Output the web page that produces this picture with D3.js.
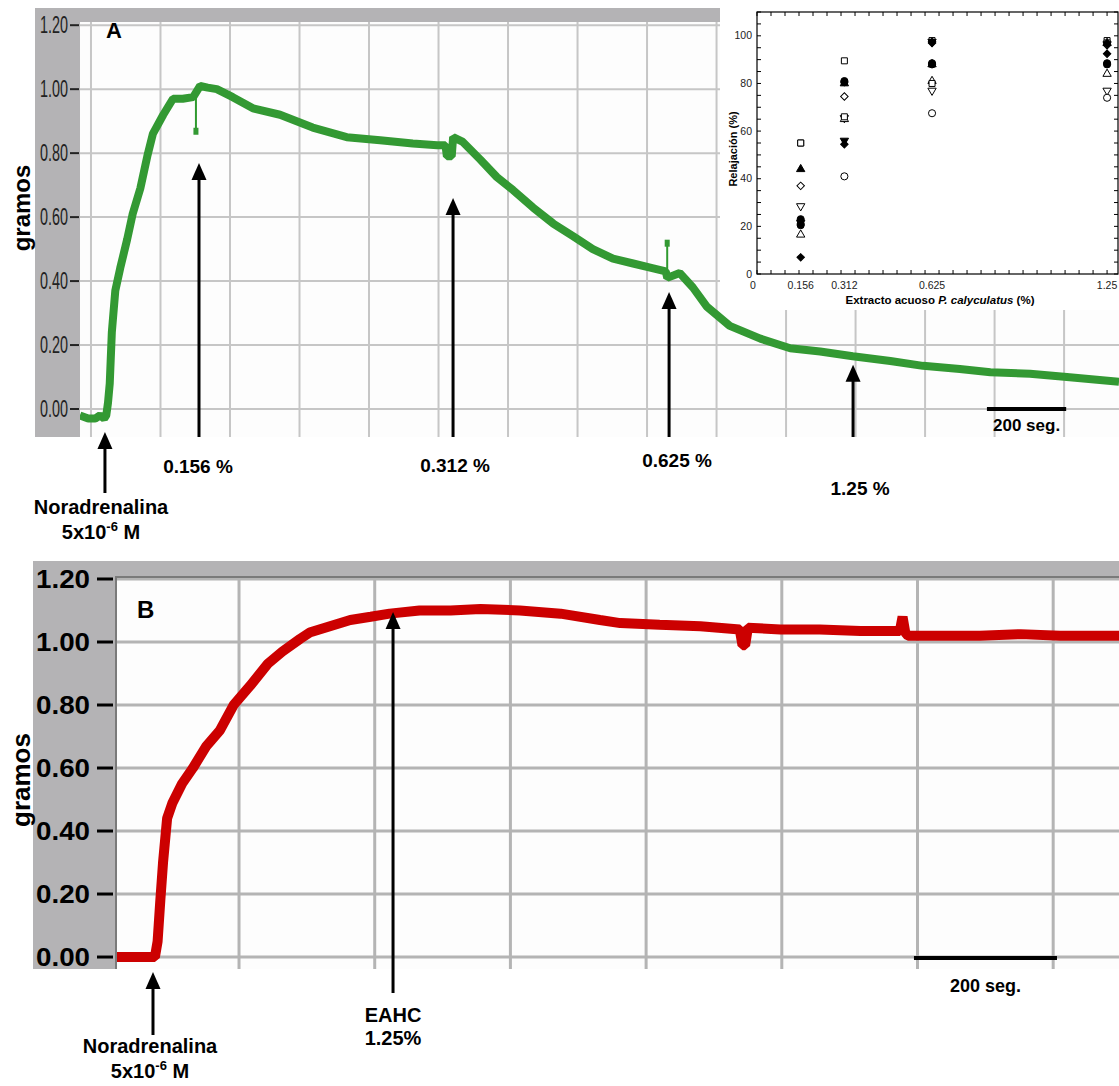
<!DOCTYPE html>
<html><head><meta charset="utf-8">
<script src="https://cdn.jsdelivr.net/npm/d3@7"></script>
<style>
body{margin:0;background:#fff}
svg{display:block}
text{font-family:"Liberation Sans",Arial,Helvetica,sans-serif}
</style>
</head><body>
<svg id="c" width="1119" height="1086"></svg>
<script>
// ---------------- DATA ----------------
// Panel A: recorder trace (x in chart-grid divisions, y in grams)
const traceA_x = [-0.16,-0.04,0.06,0.13,0.19,0.22,0.245,0.27,0.30,0.35,0.42,0.52,0.60,0.71,0.81,0.89,1.04,1.18,1.32,1.47,1.57,1.68,1.81,2.04,2.33,2.72,3.19,3.68,4.16,4.63,4.98,5.10,5.12,5.19,5.21,5.35,5.60,5.84,6.07,6.36,6.65,6.94,7.22,7.51,7.80,8.09,8.27,8.29,8.47,8.66,8.86,9.19,9.63,10.06,10.49,10.96,11.50,11.97,12.50,12.94,13.51,14.04,14.79];
const traceA_y = [-0.02,-0.03,-0.03,-0.02,-0.03,-0.02,0.02,0.08,0.24,0.37,0.44,0.53,0.61,0.69,0.79,0.86,0.92,0.97,0.97,0.975,1.01,1.005,1.0,0.975,0.94,0.92,0.88,0.85,0.84,0.83,0.825,0.825,0.79,0.79,0.85,0.835,0.78,0.725,0.685,0.63,0.58,0.54,0.50,0.47,0.455,0.44,0.43,0.41,0.425,0.38,0.32,0.26,0.22,0.19,0.18,0.165,0.15,0.135,0.125,0.115,0.11,0.10,0.085];
const artifactA_x = [1.51, 8.29];
const artifactA_from = [0.975, 0.42];
const artifactA_to = [0.87, 0.52];
const yTicksA = [0, 0.2, 0.4, 0.6, 0.8, 1.0, 1.2];
const gridXA = d3.range(0, 15);
const doseLabelsA = ["0.156 %", "0.312 %", "0.625 %", "1.25 %"];
const doseA_x = [1.554, 5.209, 8.317, 10.964];
const doseA_tip = [0.769, 0.660, 0.366, 0.138];
const norA_x = 0.201, norA_tip = -0.072;
const scaleBarA = [12.89, 14.03];   // 200 seg.

// Panel B
const traceB_x = [-0.914,-0.62,-0.60,-0.58,-0.56,-0.53,-0.49,-0.42,-0.34,-0.24,-0.14,-0.04,0.08,0.21,0.32,0.45,0.52,0.67,0.82,0.97,1.11,1.33,1.56,1.78,2.07,2.37,2.66,2.81,3.10,3.40,3.69,3.71,3.73,3.75,3.99,4.28,4.58,4.87,4.89,4.91,4.93,5.17,5.46,5.76,6.05,6.49];
const traceB_y = [0,0,0.05,0.18,0.30,0.44,0.49,0.55,0.60,0.67,0.72,0.80,0.86,0.93,0.97,1.01,1.03,1.05,1.07,1.08,1.09,1.10,1.10,1.105,1.10,1.09,1.07,1.06,1.055,1.05,1.04,0.99,0.99,1.045,1.04,1.04,1.035,1.035,1.08,1.03,1.02,1.02,1.02,1.025,1.02,1.02];
const yTicksB = [0, 0.2, 0.4, 0.6, 0.8, 1.0, 1.2];
const gridXB = d3.range(0, 7);
const norB_x = -0.634, norB_tip = -0.0475;
const eahcB_x = 1.135, eahcB_tip = 1.095;
const scaleBarB = [4.974, 6.028];

// Inset: relaxation (%) vs extract concentration (%)
const insetConc = [0.156, 0.312, 0.625, 1.25];
const insetConcLabels = ["0", "0.156", "0.312", "0.625", "1.25"];
const insetSymbols = ["square","triangle","diamond","triangleDown","circle","circle","triangle","diamond","circle","triangleDown","square"];
const insetFilled  = [false, true, false, false, true, true, false, true, false, true, false];
const insetValues = [
  [55, 89.5, 98, 98],
  [44, 80, 88, 97],
  [37, 74.5, 97.5, 96],
  [28.5, 65.5, 77, 77],
  [23, 81, 88.5, 88.5],
  [20.5, 80.5, 88, 88],
  [16.5, 65, 81, 84],
  [7, 54.5, 97, 92.5],
  [21, 41, 67.5, 74],
  [21.5, 56, 97.5, 96.5],
  [55, 66, 80, 97]
];
const insetYTicks = [0, 20, 40, 60, 80, 100];

// ---------------- DRAW ----------------
const svg = d3.select("#c");
const GRAY = "#b4b3b5";

function arrow(g, x, yTip, yTail, w, h) {
  g.append("line").attr("x1", x).attr("x2", x).attr("y1", yTail).attr("y2", yTip + h - 1)
    .attr("stroke", "#000").attr("stroke-width", 3);
  g.append("path").attr("d", `M${x},${yTip} L${x - w/2},${yTip + h} L${x + w/2},${yTip + h} Z`).attr("fill", "#000");
}

// ===== Panel A =====
const xA = d3.scaleLinear().domain([-0.158, 14.79]).range([80, 1119]);
const yA = d3.scaleLinear().domain([-0.0875, 1.21]).range([437, 22]);
const gA = svg.append("g");
gA.append("rect").attr("x", 35).attr("y", 8).attr("width", 1119 - 35).attr("height", 14).attr("fill", GRAY);
gA.append("rect").attr("x", 35).attr("y", 8).attr("width", 45).attr("height", 437 - 8).attr("fill", GRAY);
gA.append("rect").attr("x", 80).attr("y", 22).attr("width", 1039).attr("height", 415).attr("fill", "#fdfdfd");
gA.selectAll(".gxA").data(gridXA).join("line")
  .attr("x1", d => xA(d)).attr("x2", d => xA(d)).attr("y1", 22).attr("y2", 437)
  .attr("stroke", "#c6c6c6").attr("stroke-width", 2);
gA.selectAll(".gyA").data(yTicksA).join("line")
  .attr("x1", 80).attr("x2", 1119).attr("y1", d => yA(d)).attr("y2", d => yA(d))
  .attr("stroke", "#c6c6c6").attr("stroke-width", 2);
gA.selectAll(".tkA").data(yTicksA).join("line")
  .attr("x1", 70).attr("x2", 79).attr("y1", d => yA(d)).attr("y2", d => yA(d))
  .attr("stroke", "#222").attr("stroke-width", 2);
gA.selectAll(".tlA").data(yTicksA).join("text")
  .attr("x", 68).attr("y", d => yA(d) + 8)
  .attr("text-anchor", "end").attr("font-size", 24).attr("fill", "#222")
  .attr("textLength", 28).attr("lengthAdjust", "spacingAndGlyphs")
  .text(d => d3.format(".2f")(d));
gA.append("text").attr("transform", "translate(30,208) rotate(-90)")
  .attr("text-anchor", "middle").attr("font-size", 24).attr("font-weight", "bold").text("gramos");
gA.append("text").attr("x", 106).attr("y", 38).attr("font-size", 22).attr("font-weight", "bold").text("A");
const clipA = svg.append("clipPath").attr("id", "clipA");
clipA.append("rect").attr("x", 80).attr("y", 22).attr("width", 1039).attr("height", 415);
const lineA = d3.line().x(d => xA(d[0])).y(d => yA(d[1]));
gA.append("path").attr("clip-path", "url(#clipA)")
  .attr("d", lineA(d3.zip(traceA_x, traceA_y)))
  .attr("fill", "none").attr("stroke", "#339933").attr("stroke-width", 8).attr("stroke-linejoin", "bevel");
artifactA_x.forEach((x, i) => {
  gA.append("line").attr("x1", xA(x)).attr("x2", xA(x)).attr("y1", yA(artifactA_from[i])).attr("y2", yA(artifactA_to[i]))
    .attr("stroke", "#2f9a2f").attr("stroke-width", 2);
  gA.append("rect").attr("x", xA(x) - 2.5).attr("y", yA(artifactA_to[i]) - 3).attr("width", 5).attr("height", 7).attr("fill", "#339933");
});
gA.append("line").attr("x1", xA(scaleBarA[0])).attr("x2", xA(scaleBarA[1])).attr("y1", yA(0)).attr("y2", yA(0))
  .attr("stroke", "#000").attr("stroke-width", 4);
gA.append("text").attr("x", (xA(scaleBarA[0]) + xA(scaleBarA[1])) / 2).attr("y", 431)
  .attr("text-anchor", "middle").attr("font-size", 17).attr("font-weight", "bold").text("200 seg.");
const doseLabelDx = [-1, 2, 8, 7];
const doseLabelY = [473, 472, 467, 495];
doseA_x.forEach((x, i) => {
  arrow(gA, xA(x), yA(doseA_tip[i]), 437, 15, 17);
  gA.append("text").attr("x", xA(x) + doseLabelDx[i]).attr("y", doseLabelY[i])
    .attr("text-anchor", "middle").attr("font-size", 19).attr("font-weight", "bold").text(doseLabelsA[i]);
});
arrow(gA, xA(norA_x), yA(norA_tip), 493, 15, 17);
function norLabel(g, cx, y1, y2) {
  g.append("text").attr("x", cx).attr("y", y1).attr("text-anchor", "middle")
    .attr("font-size", 20).attr("font-weight", "bold").text("Noradrenalina");
  const t = g.append("text").attr("x", cx).attr("y", y2).attr("text-anchor", "middle")
    .attr("font-size", 20).attr("font-weight", "bold");
  t.append("tspan").text("5x10");
  t.append("tspan").attr("dy", -8).attr("font-size", 13).text("-6");
  t.append("tspan").attr("dy", 8).text(" M");
}
norLabel(gA, 101, 514, 539);

// ===== Inset =====
const gI = svg.append("g");
gI.append("rect").attr("x", 720).attr("y", 0).attr("width", 399).attr("height", 310).attr("fill", "#fff");
const xI = d3.scaleLinear().domain([0, 1.289]).range([757, 1118]);
const yI = d3.scaleLinear().domain([0, 110]).range([274, 12]);
gI.append("rect").attr("x", 757).attr("y", 12).attr("width", 361).attr("height", 262)
  .attr("fill", "none").attr("stroke", "#000").attr("stroke-width", 1.2);
const xMinor = d3.range(0, 1.29, 0.05);
const yMinor = d3.range(0, 111, 5);
gI.selectAll(".xtb").data(xMinor).join("line")
  .attr("x1", d => xI(d)).attr("x2", d => xI(d)).attr("y1", 274).attr("y2", 270).attr("stroke", "#000");
gI.selectAll(".xtt").data(xMinor).join("line")
  .attr("x1", d => xI(d)).attr("x2", d => xI(d)).attr("y1", 12).attr("y2", 16).attr("stroke", "#000");
gI.selectAll(".ytl").data(yMinor).join("line")
  .attr("x1", 757).attr("x2", 761).attr("y1", d => yI(d)).attr("y2", d => yI(d)).attr("stroke", "#000");
gI.selectAll(".ytr").data(yMinor).join("line")
  .attr("x1", 1118).attr("x2", 1114).attr("y1", d => yI(d)).attr("y2", d => yI(d)).attr("stroke", "#000");
gI.selectAll(".yl").data(insetYTicks).join("text")
  .attr("x", 752).attr("y", d => yI(d) + 3.5).attr("text-anchor", "end").attr("font-size", 10.5).attr("fill", "#222")
  .text(d => d);
const xLabVals = [0].concat(insetConc);
gI.selectAll(".xl").data(xLabVals).join("text")
  .attr("x", (d) => d === 0 ? xI(d) - 4 : xI(d)).attr("y", 289).attr("text-anchor", "middle").attr("font-size", 10.5).attr("fill", "#222")
  .text((d, i) => insetConcLabels[i]);
gI.append("text").attr("transform", "translate(737,149) rotate(-90)").attr("text-anchor", "middle")
  .attr("font-size", 11).attr("font-weight", "bold").text("Relajación (%)");
const xt = gI.append("text").attr("x", 940).attr("y", 304).attr("text-anchor", "middle")
  .attr("font-size", 11.5).attr("font-weight", "bold");
xt.append("tspan").text("Extracto acuoso ");
xt.append("tspan").attr("font-style", "italic").text("P. calyculatus");
xt.append("tspan").text(" (%)");
const symMap = {
  square: [d3.symbolSquare, 36, 0],
  triangle: [d3.symbolTriangle, 30, 0],
  triangleDown: [d3.symbolTriangle, 30, 180],
  diamond: [d3.symbolSquare, 28, 45],
  circle: [d3.symbolCircle, 40, 0]
};
// open markers first, filled markers on top
const order = d3.range(insetValues.length).sort((a, b) => (insetFilled[a] ? 1 : 0) - (insetFilled[b] ? 1 : 0));
order.forEach(s => {
  const vals = insetValues[s];
  const [type, size, rot] = symMap[insetSymbols[s]];
  const path = d3.symbol().type(type).size(size)();
  vals.forEach((v, i) => {
    gI.append("path").attr("d", path)
      .attr("transform", `translate(${xI(insetConc[i])},${yI(v)}) rotate(${rot})`)
      .attr("fill", insetFilled[s] ? "#000" : "#fff").attr("stroke", "#000").attr("stroke-width", 1);
  });
});

// ===== Panel B =====
const xB = d3.scaleLinear().domain([-0.914, 6.485]).range([115, 1119]);
const yB = d3.scaleLinear().domain([-0.038, 1.2095]).range([969, 576]);
const gB = svg.append("g");
gB.append("rect").attr("x", 33).attr("y", 561).attr("width", 1119 - 33).attr("height", 15).attr("fill", GRAY);
gB.append("rect").attr("x", 33).attr("y", 561).attr("width", 82).attr("height", 969 - 561).attr("fill", GRAY);
gB.append("rect").attr("x", 115).attr("y", 576).attr("width", 1004).attr("height", 393).attr("fill", "#fdfdfd");
gB.selectAll(".gxB").data(gridXB).join("line")
  .attr("x1", d => xB(d)).attr("x2", d => xB(d)).attr("y1", 576).attr("y2", 969)
  .attr("stroke", "#b4b4b4").attr("stroke-width", 3);
gB.selectAll(".gyB").data(yTicksB).join("line")
  .attr("x1", 115).attr("x2", 1119).attr("y1", d => yB(d)).attr("y2", d => yB(d))
  .attr("stroke", "#b4b4b4").attr("stroke-width", 3);
gB.append("line").attr("x1", 115).attr("x2", 1119).attr("y1", 577).attr("y2", 577).attr("stroke", "#7a7a7a").attr("stroke-width", 2);
gB.append("line").attr("x1", 116).attr("x2", 116).attr("y1", 576).attr("y2", 969).attr("stroke", "#7a7a7a").attr("stroke-width", 2);
gB.selectAll(".tkB").data(yTicksB).join("line")
  .attr("x1", 97).attr("x2", 113).attr("y1", d => yB(d)).attr("y2", d => yB(d))
  .attr("stroke", "#000").attr("stroke-width", 3);
gB.selectAll(".tlB").data(yTicksB).join("text")
  .attr("x", 90).attr("y", d => yB(d) + 9)
  .attr("text-anchor", "end").attr("font-size", 25).attr("font-weight", "bold").attr("fill", "#000")
  .attr("textLength", 54).attr("lengthAdjust", "spacingAndGlyphs")
  .text(d => d3.format(".2f")(d));
gB.append("text").attr("transform", "translate(30,780) rotate(-90)")
  .attr("text-anchor", "middle").attr("font-size", 26).attr("font-weight", "bold").text("gramos");
gB.append("text").attr("x", 137).attr("y", 618).attr("font-size", 24).attr("font-weight", "bold").text("B");
const clipB = svg.append("clipPath").attr("id", "clipB");
clipB.append("rect").attr("x", 117).attr("y", 578).attr("width", 1002).attr("height", 391);
const lineB = d3.line().x(d => xB(d[0])).y(d => yB(d[1]));
gB.append("path").attr("clip-path", "url(#clipB)")
  .attr("d", lineB(d3.zip(traceB_x, traceB_y)))
  .attr("fill", "none").attr("stroke", "#cc0000").attr("stroke-width", 10).attr("stroke-linejoin", "bevel");
gB.append("line").attr("x1", xB(scaleBarB[0])).attr("x2", xB(scaleBarB[1])).attr("y1", yB(0) + 1).attr("y2", yB(0) + 1)
  .attr("stroke", "#000").attr("stroke-width", 4);
gB.append("text").attr("x", (xB(scaleBarB[0]) + xB(scaleBarB[1])) / 2).attr("y", 992)
  .attr("text-anchor", "middle").attr("font-size", 18).attr("font-weight", "bold").text("200 seg.");
arrow(gB, xB(norB_x), yB(norB_tip), 1035, 15, 17);
norLabel(gB, 150, 1053, 1078);
arrow(gB, xB(eahcB_x), yB(eahcB_tip), 993, 15, 17);
gB.append("text").attr("x", 393).attr("y", 1022).attr("text-anchor", "middle").attr("font-size", 20).attr("font-weight", "bold").text("EAHC");
gB.append("text").attr("x", 393).attr("y", 1045).attr("text-anchor", "middle").attr("font-size", 20).attr("font-weight", "bold").text("1.25%");
</script>
</body></html>
